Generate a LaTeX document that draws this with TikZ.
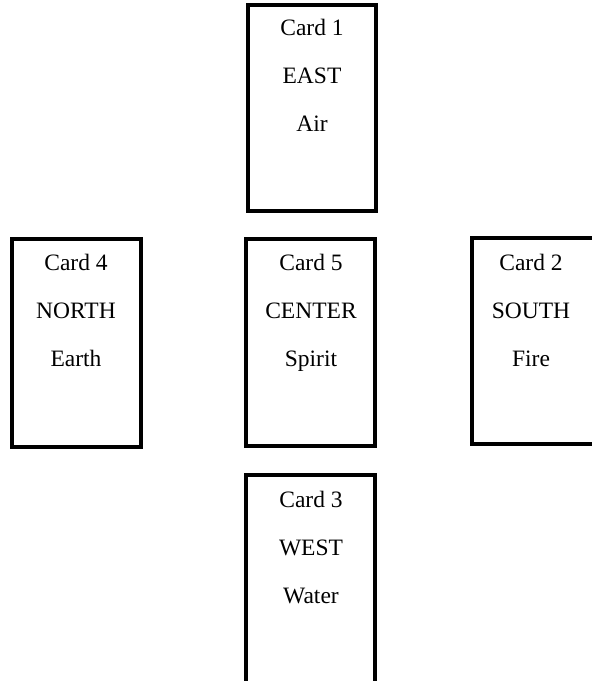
\documentclass[tikz,border=0pt]{standalone}
\usepackage{fontspec}
\setmainfont{Liberation Serif}
\begin{document}
\begin{tikzpicture}[x=1bp,y=-1bp,
  card/.style={draw=black,line width=4bp,fill=white},
  lbl/.style={anchor=base,inner sep=0pt,font=\fontsize{23.5bp}{26bp}\selectfont}]
\useasboundingbox (0,0) rectangle (592,681);
% cards
\path[card] (248,5) rectangle (376,211);
\path[card] (246,239) rectangle (375,446);
\path[card] (12,239) rectangle (141,447);
\path[card] (472,238) rectangle (600,444);
\path[card] (246,475) rectangle (375,690);
% Card 1
\node[lbl] (c1a) at (312,36) {Card 1};
\node[lbl] (c1b) at (312,84) {EAST};
\node[lbl] (c1c) at (312,132) {Air};
% Card 5
\node[lbl] (c5a) at (311,270) {Card 5};
\node[lbl] (c5b) at (311,318) {CENTER};
\node[lbl] (c5c) at (311,366) {Spirit};
% Card 4
\node[lbl] (c4a) at (76,270) {Card 4};
\node[lbl] (c4b) at (76,318) {NORTH};
\node[lbl] (c4c) at (76,366) {Earth};
% Card 2
\node[lbl] (c2a) at (531,270) {Card 2};
\node[lbl] (c2b) at (531,318) {SOUTH};
\node[lbl] (c2c) at (531,366) {Fire};
% Card 3
\node[lbl] (c3a) at (311,507) {Card 3};
\node[lbl] (c3b) at (311,555) {WEST};
\node[lbl] (c3c) at (311,603) {Water};
\end{tikzpicture}
\end{document}
